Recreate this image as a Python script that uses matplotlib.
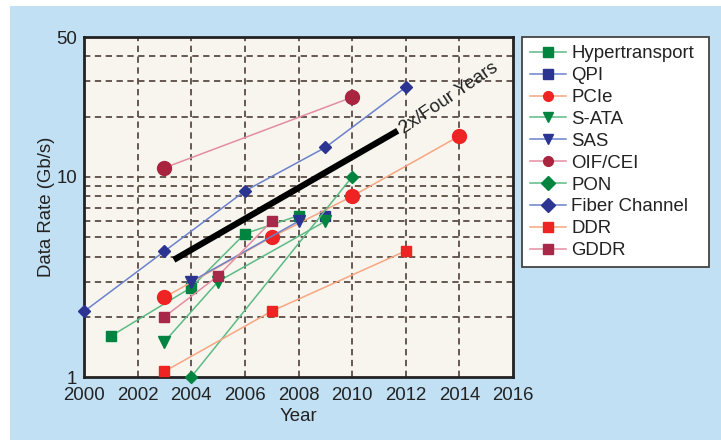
import matplotlib
matplotlib.use("Agg")
import matplotlib.pyplot as plt
from matplotlib.patches import Rectangle
from matplotlib.ticker import FixedLocator, NullFormatter, FixedFormatter

plt.rcParams['font.family'] = ['Liberation Sans', 'DejaVu Sans']

# Interface data rates (Gb/s) by year of introduction
ht_years = [2001, 2004, 2006, 2008]
ht_rates = [1.6, 2.8, 5.2, 6.4]

qpi_years = [2009]
qpi_rates = [6.4]

pcie_years = [2003, 2007, 2010, 2014]
pcie_rates = [2.5, 5.0, 8.0, 16.0]

sata_years = [2003, 2005, 2009]
sata_rates = [1.5, 3.0, 6.0]

sas_years = [2004, 2008]
sas_rates = [3.0, 6.0]

oif_years = [2003, 2010]
oif_rates = [11.1, 25.0]

pon_years = [2004, 2010]
pon_rates = [1.0, 10.0]

fc_years = [2000, 2003, 2006, 2009, 2012]
fc_rates = [2.125, 4.25, 8.5, 14.025, 28.05]

ddr_years = [2003, 2007, 2012]
ddr_rates = [1.066, 2.133, 4.266]

gddr_years = [2003, 2005, 2007]
gddr_rates = [2.0, 3.2, 6.0]

# Trend line endpoints
trend_years = [2003.35, 2011.7]
trend_rates = [3.85, 17.0]
trend_label = "2x/Four Years"

x_ticks = list(range(2000, 2017, 2))
y_major = [1, 10, 50]
y_minor = [2, 3, 4, 5, 6, 7, 8, 9, 20, 30, 40]

FS = 13.4
TXT = "#222222"

W, H = 721, 440
fig = plt.figure(figsize=(W / 100, H / 100), dpi=100, facecolor="white")
fig.patches.append(Rectangle((10 / W, 0), 1 - 10 / W, 1 - 6 / H,
                             transform=fig.transFigure, facecolor="#c2e0f4",
                             edgecolor="none", zorder=-10))
# legend panel
fig.patches.append(Rectangle((522 / W, 1 - 267 / H), (709 - 522) / W,
                             (267 - 37) / H, transform=fig.transFigure,
                             facecolor="white", edgecolor="#444444",
                             linewidth=1.3, zorder=-5))

ax = fig.add_axes([84 / W, 1 - 377 / H, (513 - 84) / W, (377 - 37) / H])
ax.set_facecolor("#f7f5ee")
ax.set_yscale("log")
ax.set_xlim(2000, 2016)
ax.set_ylim(1, 50)

grid_kw = dict(color="#5a4c44", linestyle=(0, (3.5, 2.5)), linewidth=1.3)
for x in x_ticks[1:-1]:
    ax.axvline(x, zorder=0, **grid_kw)
for y in [10] + y_minor:
    ax.axhline(y, zorder=0, **grid_kw)

series = [
    ("Hypertransport", ht_years, ht_rates, "s", "#00843f", "#5dbb86", 7),
    ("QPI", qpi_years, qpi_rates, "s", "#2b3591", "#6c82cc", 7),
    ("PCIe", pcie_years, pcie_rates, "o", "#ee2323", "#f7a681", 10),
    ("S-ATA", sata_years, sata_rates, "v", "#00843f", "#5dbb86", 9),
    ("SAS", sas_years, sas_rates, "v", "#2b3591", "#6c82cc", 9),
    ("OIF/CEI", oif_years, oif_rates, "o", "#a8243f", "#e48da0", 10),
    ("PON", pon_years, pon_rates, "D", "#00843f", "#5dbb86", 6),
    ("Fiber Channel", fc_years, fc_rates, "D", "#2b3591", "#6c82cc", 6),
    ("DDR", ddr_years, ddr_rates, "s", "#ee2323", "#f7a681", 7),
    ("GDDR", gddr_years, gddr_rates, "s", "#a8284a", "#e48da0", 7),
]
for name, xs, ys, mk, mc, lc, ms in series:
    ax.plot(xs, ys, color=lc, linewidth=1.1, marker=mk, markersize=ms,
            markerfacecolor=mc, markeredgecolor=mc, label=name, zorder=3,
            clip_on=False)

ax.plot(trend_years, trend_rates, color="black", linewidth=4.5,
        solid_capstyle="butt", zorder=4)
ax.annotate(trend_label, xy=(trend_years[1], trend_rates[1]),
            xytext=(3, 0), textcoords="offset points", rotation=34,
            rotation_mode="anchor", ha="left", va="center", fontsize=FS,
            color=TXT, zorder=5)

ax.xaxis.set_major_locator(FixedLocator(x_ticks))
ax.set_xticklabels([str(t) for t in x_ticks])
ax.yaxis.set_major_locator(FixedLocator(y_major))
ax.yaxis.set_major_formatter(FixedFormatter([str(v) for v in y_major]))
ax.yaxis.set_minor_locator(FixedLocator(y_minor))
ax.yaxis.set_minor_formatter(NullFormatter())
ax.tick_params(axis="both", which="both", length=0, labelsize=FS,
               labelcolor=TXT)
ax.tick_params(axis="x", pad=7)
ax.tick_params(axis="y", pad=5)

for s in ax.spines.values():
    s.set_linewidth(2)
    s.set_color(TXT)

ax.set_xlabel("Year", fontsize=FS, color=TXT, labelpad=3)
ax.set_ylabel("Data Rate (Gb/s)", fontsize=FS, color=TXT, labelpad=1)

leg = fig.legend(loc="upper left", bbox_to_anchor=(522 / W, 1 - 37 / H),
                 bbox_transform=fig.transFigure, fontsize=FS, frameon=False,
                 handlelength=1.9, handletextpad=0.3, labelspacing=0.26,
                 borderpad=0.45, borderaxespad=0)
for t in leg.get_texts():
    t.set_color(TXT)
for h in leg.legend_handles:
    h.set_markersize(7)

fig.savefig("out.png", dpi=100, facecolor=fig.get_facecolor())
